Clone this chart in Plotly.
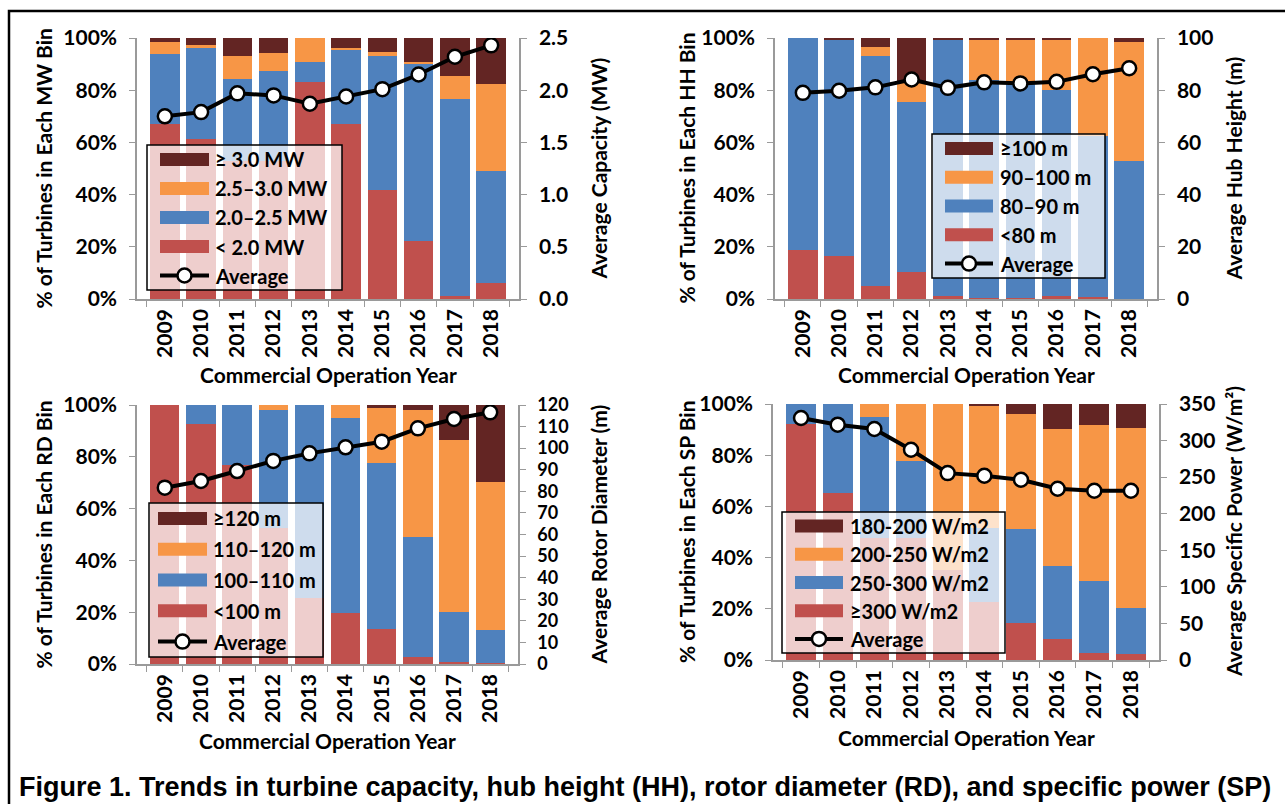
import plotly.graph_objects as go

W, H = 1285, 804

years = ["2009", "2010", "2011", "2012", "2013", "2014", "2015", "2016", "2017", "2018"]
pct_ticks = [0, 20, 40, 60, 80, 100]
pct_labels = ["0%", "20%", "40%", "60%", "80%", "100%"]

# Turbine capacity bins (% of turbines) and average capacity (MW)
mw_lt20 = [66.9, 61.2, 53.0, 53.0, 83.0, 66.9, 41.8, 22.1, 1.3, 6.0]
mw_20_25 = [27.0, 34.8, 31.3, 34.4, 7.7, 28.5, 51.3, 68.2, 75.5, 43.0]
mw_25_30 = [4.7, 1.3, 8.9, 6.7, 9.3, 0.9, 1.7, 0.4, 8.8, 33.2]
mw_ge30 = [1.4, 2.7, 6.8, 5.9, 0.0, 3.7, 5.2, 9.3, 14.4, 17.8]
mw_avg = [1.75, 1.79, 1.97, 1.95, 1.87, 1.94, 2.01, 2.15, 2.32, 2.43]

# Hub height bins (% of turbines) and average hub height (m)
hh_lt80 = [18.7, 16.4, 4.9, 10.4, 1.0, 0.3, 0.3, 1.3, 0.6, 0.0]
hh_80_90 = [81.3, 82.8, 88.2, 65.2, 98.2, 83.8, 82.2, 78.8, 61.9, 52.8]
hh_90_100 = [0.0, 0.0, 3.3, 7.0, 0.0, 15.1, 17.0, 19.1, 37.5, 45.5]
hh_ge100 = [0.0, 0.8, 3.6, 17.4, 0.8, 0.8, 0.5, 0.8, 0.0, 1.7]
hh_avg = [79.0, 79.8, 81.1, 84.1, 80.9, 83.0, 82.6, 83.2, 86.1, 88.4]

# Rotor diameter bins (% of turbines) and average rotor diameter (m)
rd_lt100 = [100.0, 92.7, 76.8, 52.4, 25.5, 19.6, 13.6, 2.8, 0.6, 0.5]
rd_100_110 = [0.0, 7.3, 23.2, 45.7, 74.5, 75.5, 64.1, 46.2, 19.6, 12.5]
rd_110_120 = [0.0, 0.0, 0.0, 1.9, 0.0, 4.9, 21.3, 49.1, 66.3, 57.1]
rd_ge120 = [0.0, 0.0, 0.0, 0.0, 0.0, 0.0, 1.0, 1.9, 13.5, 29.9]
rd_avg = [81.7, 84.8, 89.4, 94.1, 97.6, 100.4, 103.0, 109.2, 113.5, 116.6]

# Specific power bins (% of turbines) and average specific power (W/m2)
sp_ge300 = [92.3, 65.1, 47.5, 47.5, 35.0, 22.8, 14.6, 8.3, 2.9, 2.3]
sp_250_300 = [7.7, 34.9, 47.3, 30.1, 0.0, 28.6, 36.5, 28.5, 28.0, 18.2]
sp_200_250 = [0.0, 0.0, 5.2, 22.4, 65.0, 47.7, 45.1, 53.4, 61.0, 70.1]
sp_180_200 = [0.0, 0.0, 0.0, 0.0, 0.0, 0.9, 3.8, 9.8, 8.1, 9.4]
sp_avg = [330.8, 321.7, 315.8, 287.5, 255.5, 251.9, 246.4, 234.1, 231.4, 231.4]

RED, BLUE, ORANGE, DARK = "#C0504D", "#4F81BD", "#F79646", "#632523"
COLORS = [RED, BLUE, ORANGE, DARK]
AXIS_GREY = "#9a9a9a"
FONT = "Lato"
TICK_SIZE = 21


def px(xp):
    return xp / W


def py(yp):
    return 1 - yp / H


panels = [
    dict(
        bins=[mw_lt20, mw_20_25, mw_25_30, mw_ge30], avg=mw_avg,
        names=["< 2.0 MW", "2.0–2.5 MW", "2.5–3.0 MW", "≥ 3.0 MW"],
        left_title="% of Turbines in Each MW Bin", right_title="Average Capacity (MW)",
        xdom=(137, 519), ydom=(38, 299), right_range=[0, 2.5], right_dtick=0.5, right_fmt=".1f",
        right_size=TICK_SIZE, left_title_x=43, right_title_x=598, xtitle_y=374,
        legend=dict(box=(147, 145, 342, 290), sw=(160, 209), tx=213),
    ),
    dict(
        bins=[hh_lt80, hh_80_90, hh_90_100, hh_ge100], avg=hh_avg,
        names=["<80 m", "80–90 m", "90–100 m", "≥100 m"],
        left_title="% of Turbines in Each HH Bin", right_title="Average Hub Height (m)",
        xdom=(775, 1157), ydom=(38, 299), right_range=[0, 100], right_dtick=20, right_fmt="d",
        right_size=TICK_SIZE, left_title_x=686, right_title_x=1233, xtitle_y=374,
        legend=dict(box=(932, 134, 1105, 278), sw=(945, 993), tx=998),
    ),
    dict(
        bins=[rd_lt100, rd_100_110, rd_110_120, rd_ge120], avg=rd_avg,
        names=["<100 m", "100–110 m", "110–120 m", "≥120 m"],
        left_title="% of Turbines in Each RD Bin", right_title="Average Rotor Diameter (m)",
        xdom=(137, 518), ydom=(405, 664), right_range=[0, 120], right_dtick=10, right_fmt="d",
        right_size=18, left_title_x=43, right_title_x=598, xtitle_y=740,
        legend=dict(box=(149, 503, 323, 657), sw=(158, 207), tx=211),
    ),
    dict(
        bins=[sp_ge300, sp_250_300, sp_200_250, sp_180_200], avg=sp_avg,
        names=["≥300 W/m2", "250-300 W/m2", "200-250 W/m2", "180-200 W/m2"],
        left_title="% of Turbines in Each SP Bin", right_title="Average Specific Power (W/m²)",
        xdom=(773, 1159), ydom=(404, 660), right_range=[0, 350], right_dtick=50, right_fmt="d",
        right_size=TICK_SIZE, left_title_x=686, right_title_x=1233, xtitle_y=737,
        legend=dict(box=(782, 512, 1005, 653), sw=(795, 843), tx=848),
    ),
]

fig = go.Figure()
layout = dict(shapes=[], annotations=[])
tick_font = dict(family=FONT, size=TICK_SIZE, color="black", weight="bold")

for i, p in enumerate(panels, start=1):
    xa = "x" if i == 1 else f"x{i}"
    yl = "y" if i == 1 else f"y{2 * i - 1}"
    yr = f"y{2 * i}"
    xkey = "xaxis" if i == 1 else f"xaxis{i}"
    ylkey = "yaxis" if i == 1 else f"yaxis{2 * i - 1}"
    yrkey = f"yaxis{2 * i}"

    for vals, name, col in zip(p["bins"], p["names"], COLORS):
        fig.add_trace(go.Bar(x=years, y=vals, name=name, marker=dict(color=col, line=dict(width=0)),
                             xaxis=xa, yaxis=yl, showlegend=False))
    fig.add_trace(go.Scatter(x=years, y=p["avg"], name="Average", mode="lines+markers",
                             line=dict(color="black", width=4),
                             marker=dict(size=14, color="white", line=dict(color="black", width=2.5)),
                             xaxis=xa, yaxis=yr, showlegend=False))

    x0, x1 = p["xdom"]
    y0, y1 = p["ydom"]
    layout[xkey] = dict(
        domain=[px(x0), px(x1)], anchor=yl, type="category", tickangle=-90, automargin=False,
        ticks="outside", tickson="boundaries", ticklen=6, tickcolor=AXIS_GREY,
        showline=True, linecolor=AXIS_GREY, linewidth=1.5, showgrid=False, tickfont=tick_font,
    )
    layout[ylkey] = dict(
        domain=[py(y1), py(y0)], anchor=xa, range=[0, 100], tickvals=pct_ticks, ticktext=pct_labels,
        ticks="outside", ticklen=6, tickcolor=AXIS_GREY, automargin=False,
        showline=True, linecolor=AXIS_GREY, linewidth=1.5, showgrid=False, zeroline=False,
        ticklabelstandoff=8, tickfont=tick_font,
    )
    layout[yrkey] = dict(
        overlaying=yl, anchor=xa, side="right", range=p["right_range"], dtick=p["right_dtick"],
        tickformat=p["right_fmt"], ticks="outside", ticklen=6, tickcolor=AXIS_GREY, automargin=False,
        showline=True, linecolor=AXIS_GREY, linewidth=1.5, showgrid=False, zeroline=False,
        ticklabelstandoff=8, tickfont=dict(tick_font, size=p["right_size"]),
    )

    ymid = (y0 + y1) / 2
    title_font = dict(family=FONT, size=TICK_SIZE, color="black", weight="bold")
    layout["annotations"] += [
        dict(text=p["left_title"], x=px(p["left_title_x"]), y=py(ymid), xref="paper", yref="paper",
             textangle=-90, showarrow=False, xanchor="center", yanchor="middle", font=title_font),
        dict(text=p["right_title"], x=px(p["right_title_x"]), y=py(ymid), xref="paper", yref="paper",
             textangle=-90, showarrow=False, xanchor="center", yanchor="middle", font=title_font),
        dict(text="Commercial Operation Year", x=px((x0 + x1) / 2), y=py(p["xtitle_y"]),
             xref="paper", yref="paper", showarrow=False, xanchor="center", yanchor="middle",
             font=title_font),
    ]

    # Boxed legend drawn over the bars with a translucent white fill
    lg = p["legend"]
    bx0, by0, bx1, by1 = lg["box"]
    layout["shapes"].append(dict(type="rect", xref="paper", yref="paper", layer="above",
                                 x0=px(bx0), x1=px(bx1), y0=py(by1), y1=py(by0),
                                 fillcolor="rgba(255,255,255,0.72)", line=dict(color="black", width=1.5)))
    row_h = (by1 - by0) / 5
    entries = list(zip(p["names"], COLORS))[::-1] + [("Average", None)]
    sx0, sx1 = lg["sw"]
    for k, (name, col) in enumerate(entries):
        cy = by0 + row_h * (k + 0.5)
        if col is not None:
            layout["shapes"].append(dict(type="rect", xref="paper", yref="paper", layer="above",
                                         x0=px(sx0), x1=px(sx1), y0=py(cy + 6.5), y1=py(cy - 6.5),
                                         fillcolor=col, line=dict(width=0)))
        else:
            cx = (sx0 + sx1) / 2
            layout["shapes"].append(dict(type="line", xref="paper", yref="paper", layer="above",
                                         x0=px(sx0), x1=px(sx1), y0=py(cy), y1=py(cy),
                                         line=dict(color="black", width=4)))
            layout["shapes"].append(dict(type="circle", xref="paper", yref="paper", layer="above",
                                         x0=px(cx - 7), x1=px(cx + 7), y0=py(cy + 7), y1=py(cy - 7),
                                         fillcolor="white", line=dict(color="black", width=2.5)))
        layout["annotations"].append(dict(text=name, x=px(lg["tx"]), y=py(cy), xref="paper", yref="paper",
                                          showarrow=False, xanchor="left", yanchor="middle",
                                          font=dict(family=FONT, size=20, color="black", weight="bold")))

# Outer frame and figure caption
layout["shapes"].append(dict(type="rect", xref="paper", yref="paper", layer="below",
                             x0=px(9), x1=1.02, y0=-0.02, y1=py(11),
                             line=dict(color="black", width=2.5), fillcolor="rgba(0,0,0,0)"))
layout["annotations"].append(dict(
    text="Figure 1. Trends in turbine capacity, hub height (HH), rotor diameter (RD), and specific power (SP)",
    x=px(645), y=py(787), xref="paper", yref="paper", showarrow=False, xanchor="center", yanchor="middle",
    font=dict(family="Liberation Sans", size=27, color="black", weight="bold")))

fig.update_layout(
    width=W, height=H, margin=dict(l=0, r=0, t=0, b=0, autoexpand=False),
    paper_bgcolor="white", plot_bgcolor="white",
    barmode="stack", bargap=0.19, showlegend=False,
    font=dict(family=FONT, color="black"),
    **layout,
)

fig.write_html("out.html")
